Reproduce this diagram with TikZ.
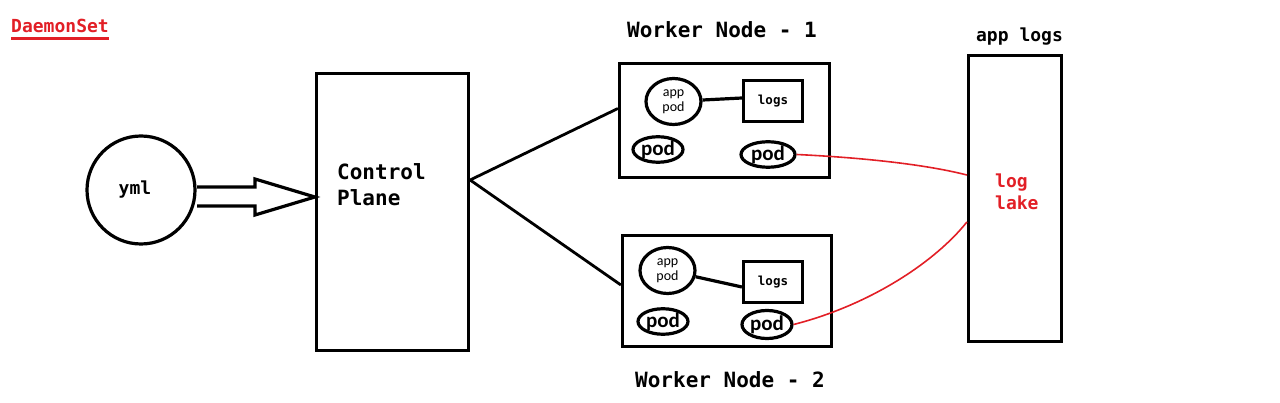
\documentclass[tikz,border=0pt]{standalone}
\usepackage{fontspec}
\newfontfamily\monofont{DejaVu Sans Mono}
\newfontfamily\podfont{Carlito}
\usetikzlibrary{shapes.geometric,positioning}
\definecolor{inkred}{RGB}{226,31,38}
\tikzset{
    frame/.style={draw,line width=3.2pt,inner sep=0pt},
    oval/.style={draw,ellipse,line width=3.2pt,inner sep=0pt},
    bigtext/.style={inner sep=0pt,font={\fontsize{21}{26}\monofont\bfseries}},
    midtext/.style={inner sep=0pt,font={\fontsize{18}{22}\monofont\bfseries}},
    logtext/.style={font={\fontsize{12.5}{15}\monofont\bfseries}},
    apptext/.style={align=center,font={\fontsize{14}{15}\podfont}},
    podtext/.style={font={\fontsize{21}{24}\podfont\bfseries}},
    redline/.style={inkred,line width=1.6pt},
}
\begin{document}
\begin{tikzpicture}[x=1pt,y=-1pt]
    \useasboundingbox (0,0) rectangle (1280,403);
    % title
    \node[midtext,text=inkred,anchor=base] (ds) at (60,33) {DaemonSet};
    \draw[inkred,line width=2.6pt] ([yshift=-5.5pt]ds.base west) -- ([yshift=-5.5pt]ds.base east);
    % yml and control plane
    \node[frame,circle,minimum size=108,midtext] (yml) at (141,190) {\hspace*{-12pt}yml};
    \node[frame,minimum width=152,minimum height=277] (cp) at (392.5,212) {};
    \node[bigtext,anchor=west,align=left] (cptext) at (337,184.5) {Control\\Plane};
    \coordinate (tip) at ([yshift=15pt]cp.west);
    \draw[line width=3.2pt,line join=miter] (197,187) -- (255,187) -- (255,179)
        -- (tip) -- (255,215) -- (255,206) -- (197,206);
    % worker node 1
    \node[bigtext,anchor=base] (wn1title) at (722,38) {Worker Node - 1};
    \node[frame,minimum width=210,minimum height=114] (wn1) at (724.5,120.5) {};
    \node[oval,apptext,minimum width=55,minimum height=46] (app1) at (673.5,101.5) {app\\pod};
    \node[frame,logtext,minimum width=59,minimum height=41] (logs1) at (773,101) {logs};
    \node[oval,podtext,minimum width=50,minimum height=23] (pod1l) at (658,149.5) {pod};
    \node[oval,podtext,minimum width=54,minimum height=25] (pod1r) at (768,154.5) {pod};
    \draw[line width=3.2pt] (app1) -- ([yshift=3pt]logs1.west);
    % worker node 2
    \node[bigtext,anchor=base] (wn2title) at (730,388) {Worker Node - 2};
    \node[frame,minimum width=209,minimum height=111] (wn2) at (727,291) {};
    \node[oval,apptext,minimum width=55,minimum height=46] (app2) at (667.5,270.5) {app\\pod};
    \node[frame,logtext,minimum width=59,minimum height=41] (logs2) at (773,282) {logs};
    \node[oval,podtext,minimum width=50,minimum height=21] (pod2l) at (663,321.5) {pod};
    \node[oval,podtext,minimum width=50,minimum height=28] (pod2r) at (767,324.5) {pod};
    \draw[line width=3.2pt] (app2) -- ([yshift=-5pt]logs2.west);
    % control plane to workers
    \coordinate (fork) at ([yshift=32pt]cp.east);
    \draw[line width=2.8pt] (fork) -- ([yshift=12pt]wn1.west);
    \draw[line width=2.8pt] (fork) -- ([yshift=6pt]wn2.west);
    % app logs
    \node[midtext,anchor=base] (lgtitle) at (1019.5,42) {app logs};
    \node[frame,minimum width=93,minimum height=286] (lg) at (1015,198.5) {};
    \node[midtext,text=inkred,anchor=west,align=left] (lake) at (995,191.3) {log\\lake};
    \coordinate (lake1) at ([yshift=23.5pt]lg.west);
    \coordinate (lake2) at ([yshift=-23.5pt]lg.west);
    \draw[redline] (pod1r.east) .. controls (850,157) and (920,163) .. (lake1);
    \draw[redline] (pod2r.east) .. controls (870,305) and (935,262) .. (lake2);
\end{tikzpicture}
\end{document}
